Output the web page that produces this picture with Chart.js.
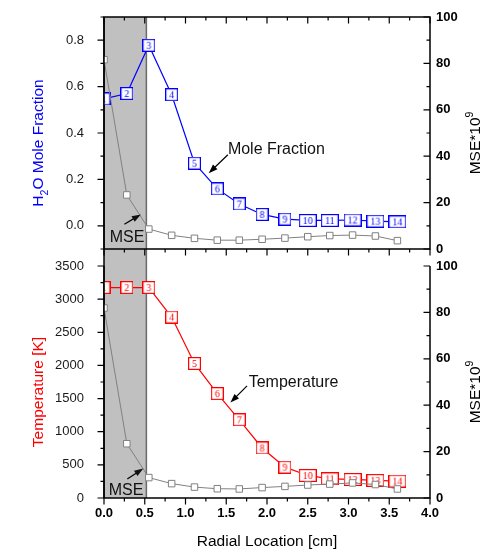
<!DOCTYPE html>
<html lang="en">
<head>
  <meta charset="UTF-8">
  <title>H2O mole fraction and temperature vs radial location</title>
  <script src="https://cdn.jsdelivr.net/npm/chart.js"></script>
  <style>
    body { margin: 0; background: #fff; }
    #wrap { position: relative; width: 484px; height: 550px; }
    canvas { position: absolute; left: 0; }
    #topChart { top: 0; z-index: 2; }
    #bottomChart { top: 249px; z-index: 1; }
  </style>
</head>
<body>
  <div id="wrap">
    <canvas id="topChart" width="484" height="256"></canvas>
    <canvas id="bottomChart" width="484" height="301"></canvas>
  </div>

  <script>
    // data
    const radialLocation = [0.00, 0.28, 0.55, 0.83, 1.11, 1.39, 1.66, 1.94, 2.22, 2.50, 2.77, 3.05, 3.33, 3.60];
    const pointNumbers = ['1', '2', '3', '4', '5', '6', '7', '8', '9', '10', '11', '12', '13', '14'];
    const moleFraction = [0.547, 0.570, 0.778, 0.565, 0.270, 0.159, 0.094, 0.049, 0.029, 0.023, 0.023, 0.025, 0.020, 0.017];
    const mseTop = [81.6, 23.3, 8.6, 5.9, 4.6, 3.8, 3.8, 4.2, 4.7, 5.3, 5.8, 6.0, 5.6, 3.6];
    const temperature = [3175, 3175, 3175, 2730, 2030, 1575, 1180, 755, 465, 340, 290, 280, 265, 255];
    const mseBottom = [81.9, 23.4, 8.8, 6.2, 4.7, 4.0, 3.9, 4.5, 5.0, 5.6, 6.0, 6.5, 5.8, 3.9];

    const xTicks = [0, 0.5, 1, 1.5, 2, 2.5, 3, 3.5, 4];
    const moleTicks = [0, 0.2, 0.4, 0.6, 0.8];
    const tempTicks = [0, 500, 1000, 1500, 2000, 2500, 3000, 3500];
    const mseTicks = [0, 20, 40, 60, 80, 100];
    const shadedRange = [0, 0.52];

    const FONT = '"Liberation Sans", Arial, sans-serif';

    // little white box with the point number, used as point style
    function numberBox(label, color) {
      const w = label.length > 1 ? 18 : 13, h = 13;
      const c = document.createElement('canvas');
      c.width = w; c.height = h;
      const g = c.getContext('2d');
      g.fillStyle = '#fff';
      g.fillRect(0, 0, w, h);
      g.strokeStyle = color;
      g.lineWidth = 1.2;
      g.strokeRect(0.6, 0.6, w - 1.2, h - 1.2);
      g.fillStyle = color;
      g.font = '10px "Liberation Serif", "Times New Roman", serif';
      g.textAlign = 'center';
      g.textBaseline = 'middle';
      g.fillText(label, w / 2, h / 2 + 0.5);
      return c;
    }

    function minorValues(min, max, step) {
      const out = [];
      for (let v = min; v <= max + 1e-9; v += step) out.push(v);
      return out;
    }

    function drawTicks(ctx, scale, values, len, horizontal, at, dir) {
      ctx.beginPath();
      values.forEach(v => {
        const p = scale.getPixelForValue(v);
        if (horizontal) { ctx.moveTo(p, at); ctx.lineTo(p, at + dir * len); }
        else { ctx.moveTo(at, p); ctx.lineTo(at + dir * len, p); }
      });
      ctx.stroke();
    }

    function drawArrow(ctx, x0, y0, x1, y1) {
      const a = Math.atan2(y1 - y0, x1 - x0), hl = 9, hw = 3.2;
      const c = Math.cos(a), s = Math.sin(a);
      ctx.beginPath();
      ctx.moveTo(x0, y0);
      ctx.lineTo(x1 - hl * 0.7 * c, y1 - hl * 0.7 * s);
      ctx.stroke();
      ctx.beginPath();
      ctx.moveTo(x1, y1);
      ctx.lineTo(x1 - hl * c + hw * s, y1 - hl * s - hw * c);
      ctx.lineTo(x1 - hl * c - hw * s, y1 - hl * s + hw * c);
      ctx.closePath();
      ctx.fill();
    }

    function drawRichText(ctx, parts, cx, cy, size, color, rotate) {
      ctx.save();
      ctx.translate(cx, cy);
      if (rotate) ctx.rotate(-Math.PI / 2);
      ctx.fillStyle = color;
      ctx.textBaseline = 'alphabetic';
      ctx.textAlign = 'left';
      let total = 0;
      parts.forEach(p => {
        ctx.font = (p.sub || p.sup ? size * 0.68 : size) + 'px ' + FONT;
        p.w = ctx.measureText(p.t).width;
        total += p.w;
      });
      let x = -total / 2;
      parts.forEach(p => {
        ctx.font = (p.sub || p.sup ? size * 0.68 : size) + 'px ' + FONT;
        const dy = p.sub ? size * 0.3 : p.sup ? -size * 0.45 : 0;
        ctx.fillText(p.t, x, size * 0.35 + dy);
        x += p.w;
      });
      ctx.restore();
    }

    // fixed scale sizes, no extra label padding in the layout
    function fixSize(prop, size) {
      return s => {
        s[prop] = size;
        s.paddingTop = 0; s.paddingBottom = 0;
        s.paddingLeft = 0; s.paddingRight = 0;
      };
    }

    // shaded MSE region
    const shadePlugin = {
      id: 'shade',
      beforeDatasetsDraw(chart, args, opts) {
        const { ctx, chartArea: a, scales } = chart;
        const x0 = scales.x.getPixelForValue(shadedRange[0]);
        const x1 = scales.x.getPixelForValue(shadedRange[1]);
        const yTop = opts.extendUp ? 0 : a.top;
        ctx.save();
        ctx.fillStyle = '#c0c0c0';
        ctx.fillRect(x0, yTop, x1 - x0, a.bottom - yTop);
        ctx.strokeStyle = '#6a6a6a';
        ctx.lineWidth = 1.5;
        ctx.beginPath();
        ctx.moveTo(x1, yTop); ctx.lineTo(x1, a.bottom);
        ctx.stroke();
        ctx.strokeStyle = '#000';
        ctx.beginPath();
        ctx.moveTo(x0, yTop); ctx.lineTo(x0, a.bottom);
        ctx.stroke();
        ctx.restore();
      }
    };

    // axis frame, ticks, notes and titles
    const framePlugin = {
      id: 'frame',
      afterDatasetsDraw(chart, args, opts) {
        const { ctx, chartArea: a, scales } = chart;
        ctx.save();
        ctx.strokeStyle = '#000';
        ctx.fillStyle = '#000';
        ctx.lineWidth = 1.5;
        ctx.beginPath();
        if (opts.topLine) {
          ctx.rect(a.left, a.top, a.right - a.left, a.bottom - a.top);
        } else {
          ctx.moveTo(a.left, a.top); ctx.lineTo(a.left, a.bottom);
          ctx.lineTo(a.right, a.bottom); ctx.lineTo(a.right, a.top);
        }
        ctx.stroke();

        ctx.lineWidth = 1.2;
        const yl = scales.y, yr = scales.y2, x = scales.x;
        // bottom x ticks (outward)
        drawTicks(ctx, x, xTicks, 6.5, true, a.bottom, 1);
        drawTicks(ctx, x, minorValues(0.25, 4, 0.5), 3.5, true, a.bottom, 1);
        if (opts.topLine) {
          drawTicks(ctx, x, xTicks, 6.5, true, a.top, 1);
          drawTicks(ctx, x, minorValues(0.25, 4, 0.5), 3.5, true, a.top, 1);
        }
        // left ticks (outward)
        drawTicks(ctx, yl, opts.leftMajor, 6.5, false, a.left, -1);
        drawTicks(ctx, yl, opts.leftMinor, 3.5, false, a.left, -1);
        // right ticks (inward)
        drawTicks(ctx, yr, mseTicks, 6.5, false, a.right, -1);
        drawTicks(ctx, yr, minorValues(10, 90, 20), 3.5, false, a.right, -1);

        // notes with arrows
        ctx.lineWidth = 1.2;
        opts.notes.forEach(n => {
          if (n.arrow) {
            drawArrow(ctx, x.getPixelForValue(n.arrow[0]), yl.getPixelForValue(n.arrow[1]),
              x.getPixelForValue(n.arrow[2]), yl.getPixelForValue(n.arrow[3]));
          }
          ctx.font = '16px ' + FONT;
          ctx.fillStyle = '#111';
          ctx.textAlign = 'left';
          ctx.textBaseline = 'middle';
          ctx.fillText(n.text, x.getPixelForValue(n.x), yl.getPixelForValue(n.y));
        });

        // axis titles
        const midY = (a.top + a.bottom) / 2 + 10;
        drawRichText(ctx, opts.leftTitle, 37.5, midY, 15.5, opts.leftColor, true);
        drawRichText(ctx, [{ t: 'MSE*10' }, { t: '9', sup: true }], 474.5, midY, 15.5, '#000', true);
        if (opts.xTitle) {
          drawRichText(ctx, [{ t: opts.xTitle }], (a.left + a.right) / 2, 292, 15.5, '#000', false);
        }
        ctx.restore();
      }
    };

    function makeChart(id, cfg) {
      const boxes = pointNumbers.map(n => numberBox(n, cfg.color));
      return new Chart(document.getElementById(id), {
        type: 'line',
        data: {
          datasets: [
            {
              data: radialLocation.map((r, i) => ({ x: r, y: cfg.values[i] })),
              yAxisID: 'y',
              borderColor: cfg.color,
              borderWidth: 1.2,
              pointStyle: ctx => boxes[ctx.dataIndex],
              pointRadius: 7,
              tension: 0,
              order: 2,
              clip: { left: 0, top: 10, right: 10, bottom: 10 }
            },
            {
              data: radialLocation.map((r, i) => ({ x: r, y: cfg.mse[i] })),
              yAxisID: 'y2',
              borderColor: '#808080',
              borderWidth: 1,
              pointStyle: 'rect',
              pointRadius: 4.6,
              pointBackgroundColor: '#fff',
              pointBorderColor: '#808080',
              pointBorderWidth: 1,
              tension: 0,
              order: 1,
              clip: { left: 0, top: 10, right: 10, bottom: 10 }
            }
          ]
        },
        options: {
          responsive: false,
          animation: false,
          events: [],
          layout: { autoPadding: false, padding: { top: 17, left: 0, right: 0, bottom: 0 } },
          plugins: {
            legend: { display: false },
            tooltip: { enabled: false },
            shade: { extendUp: cfg.extendUp },
            frame: {
              topLine: cfg.topLine,
              leftMajor: cfg.leftTicks,
              leftMinor: cfg.leftMinor,
              leftTitle: cfg.leftTitle,
              leftColor: cfg.color,
              xTitle: cfg.xTitle,
              notes: cfg.notes
            }
          },
          scales: {
            x: {
              type: 'linear',
              min: 0,
              max: 4,
              afterBuildTicks: s => { s.ticks = xTicks.map(v => ({ value: v })); },
              afterFit: fixSize('height', cfg.xHeight),
              grid: { display: false, drawTicks: false },
              border: { display: false },
              ticks: {
                display: cfg.xLabels,
                padding: 8,
                color: '#000',
                font: { family: FONT, size: 13, weight: 'bold' },
                callback: v => Number(v).toFixed(1)
              }
            },
            y: {
              position: 'left',
              min: cfg.min,
              max: cfg.max,
              afterBuildTicks: s => { s.ticks = cfg.leftTicks.map(v => ({ value: v })); },
              afterFit: fixSize('width', 104),
              grid: { display: false, drawTicks: false },
              border: { display: false },
              ticks: {
                padding: 20,
                color: '#1a1a1a',
                font: { family: FONT, size: 13 },
                callback: cfg.leftFormat
              }
            },
            y2: {
              position: 'right',
              min: 0,
              max: 100,
              afterBuildTicks: s => { s.ticks = mseTicks.map(v => ({ value: v })); },
              afterFit: fixSize('width', 54),
              grid: { display: false, drawTicks: false },
              border: { display: false },
              ticks: {
                padding: 6,
                color: '#000',
                font: { family: FONT, size: 13, weight: 'bold' }
              }
            }
          }
        },
        plugins: [shadePlugin, framePlugin]
      });
    }

    makeChart('topChart', {
      values: moleFraction,
      mse: mseTop,
      color: '#0000ff',
      min: -0.1,
      max: 0.9,
      leftTicks: moleTicks,
      leftMinor: minorValues(-0.1, 0.9, 0.2),
      leftFormat: v => Number(v).toFixed(1),
      leftTitle: [{ t: 'H' }, { t: '2', sub: true }, { t: 'O Mole Fraction' }],
      topLine: true,
      extendUp: false,
      xLabels: false,
      xHeight: 7,
      notes: [
        { text: 'Mole Fraction', x: 1.52, y: 0.327, arrow: [1.52, 0.306, 1.285, 0.227] },
        { text: 'MSE', x: 0.07, y: -0.049, arrow: [0.25, 0.007, 0.452, 0.049] }
      ]
    });

    makeChart('bottomChart', {
      values: temperature,
      mse: mseBottom,
      color: '#ff0000',
      min: 0,
      max: 3500,
      leftTicks: tempTicks,
      leftMinor: minorValues(250, 3250, 500),
      leftFormat: v => String(v),
      leftTitle: [{ t: 'Temperature [K]' }],
      topLine: false,
      extendUp: true,
      xLabels: true,
      xHeight: 52,
      xTitle: 'Radial Location [cm]',
      notes: [
        { text: 'Temperature', x: 1.775, y: 1742, arrow: [1.755, 1692, 1.551, 1439] },
        { text: 'MSE', x: 0.058, y: 109, arrow: [0.286, 288, 0.482, 445] }
      ]
    });
  </script>
</body>
</html>
